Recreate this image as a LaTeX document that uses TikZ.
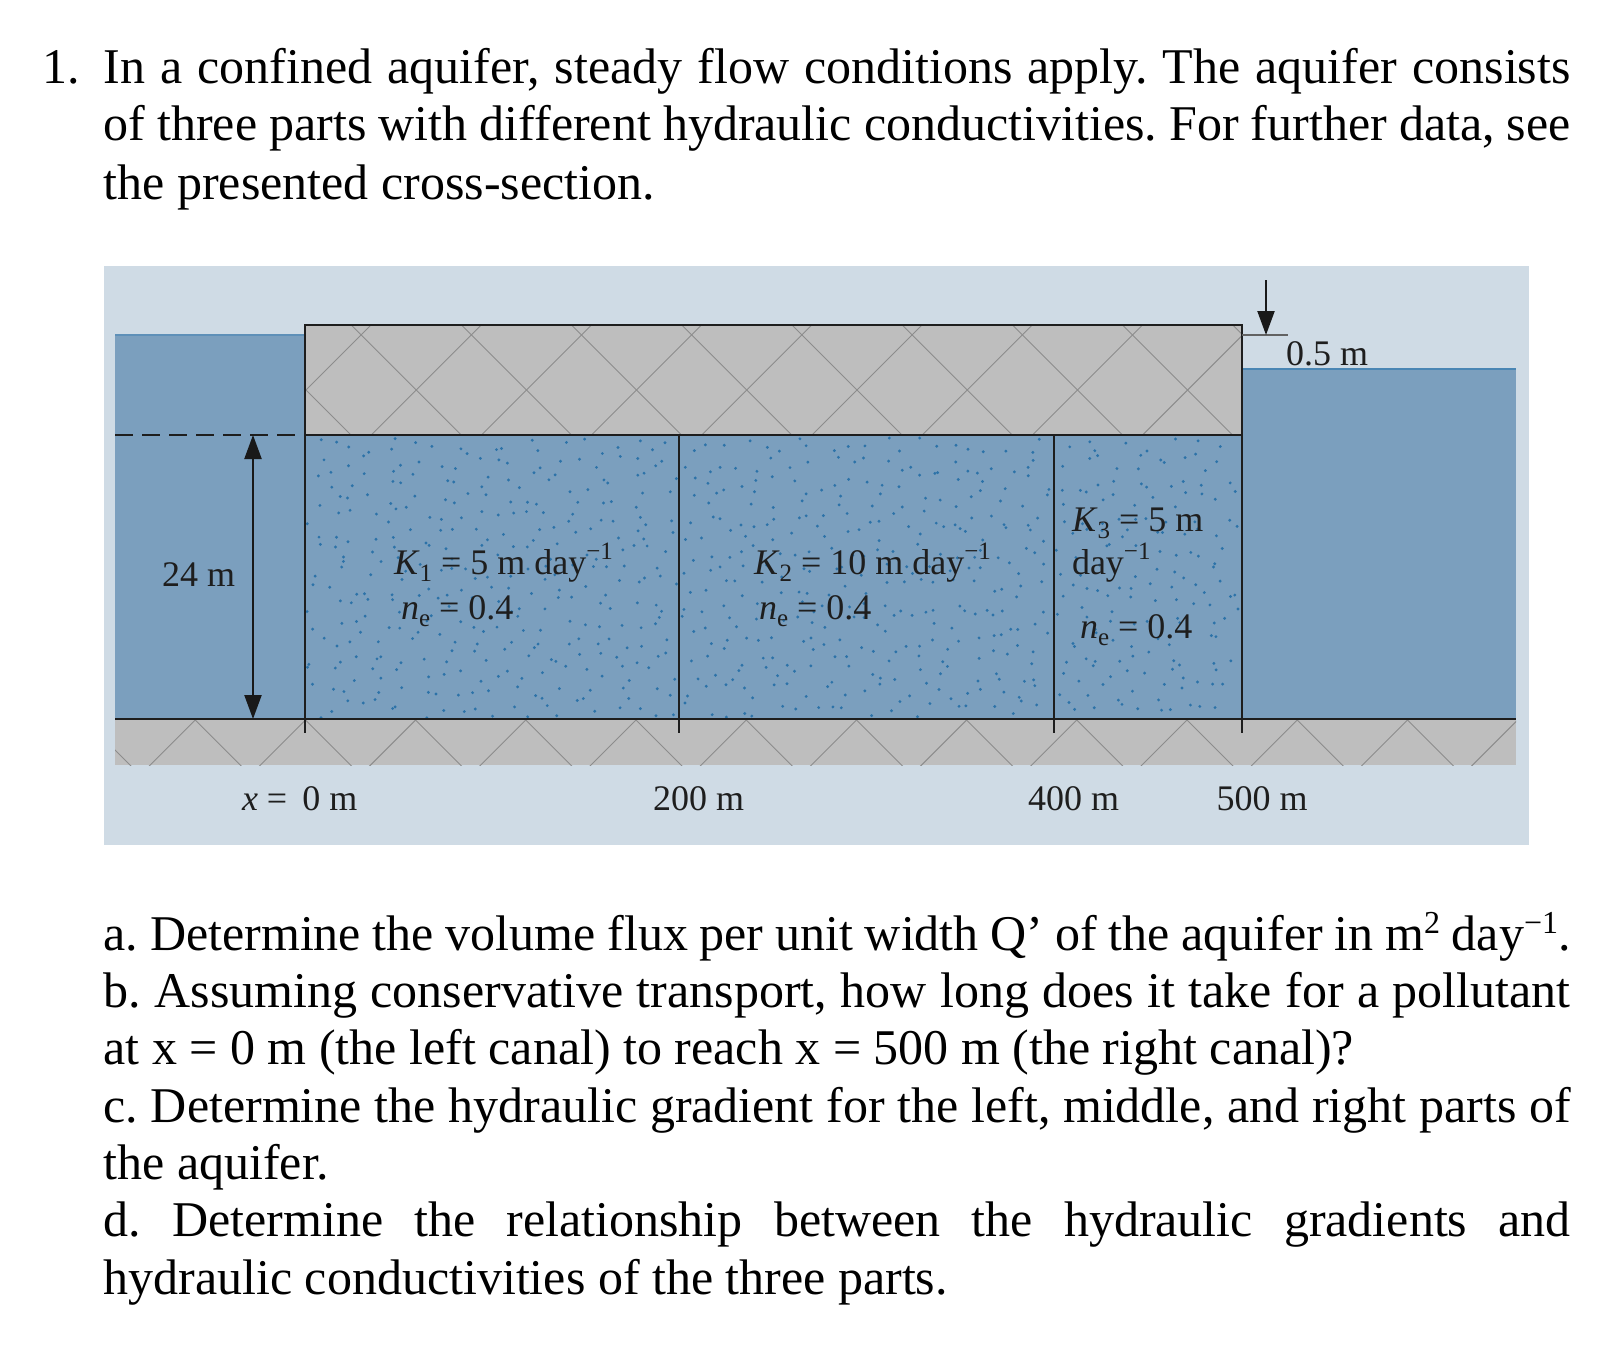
\documentclass[tikz,border=0pt]{standalone}
\usepackage{fontspec}
\setmainfont{Liberation Serif}
\usetikzlibrary{arrows.meta}
\definecolor{panelc}{HTML}{CFDBE5}
\definecolor{waterc}{HTML}{7B9FBE}
\definecolor{clayc}{HTML}{BEBEBE}
\definecolor{hatchc}{HTML}{8C8C8C}
\definecolor{dotc}{HTML}{2C72A8}
\definecolor{inkc}{HTML}{1E1E1E}
\definecolor{surfc}{HTML}{4A86B4}
\newcommand{\subx}[1]{\raisebox{-7pt}{\fontsize{25}{25}\selectfont #1}}
\newcommand{\supx}[1]{\raisebox{15pt}{\fontsize{25}{25}\selectfont #1}}
\newcommand{\bigsup}[1]{\raisebox{17pt}{\fontsize{32}{32}\selectfont #1}}
\newcommand{\Jline}[1]{\makebox[1467pt][s]{#1}}
\frenchspacing
\tikzset{
  para/.style={anchor=base west,inner sep=0pt,outer sep=0pt,text=black,font=\fontsize{50}{50}\selectfont},
  lab/.style={anchor=base west,inner sep=0pt,outer sep=0pt,text=inkc,font=\fontsize{36}{36}\selectfont},
  hatch/.style={draw=hatchc,line width=0.9pt},
  bound/.style={draw=inkc,line width=1.6pt},
  heavy/.style={draw=inkc,line width=2.4pt},
  dimarrow/.style={draw=black!90,line width=2.2pt,{Triangle[length=24pt,width=17pt]}-{Triangle[length=24pt,width=17pt]}},
  downarrow/.style={draw=black!90,line width=2.2pt,-{Triangle[length=24pt,width=17pt]}},
}
\begin{document}
\begin{tikzpicture}[x=1pt,y=-1pt]
\useasboundingbox (0,0) rectangle (1608,1362);
\fill[white] (0,0) rectangle (1608,1362);
% panel
\fill[panelc] (104,266) rectangle (1529,845);
% water
\fill[waterc] (115,335) rectangle (305,719);
\fill[waterc] (305,435) rectangle (1242,719);
\fill[waterc] (1242,369) rectangle (1516,719);
\draw[draw=surfc!60!waterc,line width=1.4pt] (115,335) -- (305,335);
\draw[draw=surfc,line width=2pt] (1242,369) -- (1516,369);
% sand dots: jittered grid
\pgfmathsetseed{4711}
\foreach \cx/\nx in {307/20,681/20,1056/10}{
  \foreach \i in {0,...,\nx}{
    \foreach \j in {0,...,15}{
      \pgfmathsetmacro{\dx}{\cx+(\i+rnd)*17.6}
      \pgfmathsetmacro{\dy}{438+(\j+rnd)*17.5}
      \ifdim \dx pt<\ifnum\nx=10 1240pt\else\ifnum\cx=307 677pt\else 1052pt\fi\fi
        \fill[dotc] (\dx,\dy) circle (1.6pt);
      \fi
    }
  }
}
% upper clay
\fill[clayc] (305,325) rectangle (1242,435);
\begin{scope}
\clip (305,325) rectangle (1242,435);
\foreach \k in {-1,...,9}{
  \pgfmathsetmacro{\xc}{306+110.2*\k}
  \draw[hatch] (\xc-80,310) -- (\xc+80,470);
  \draw[hatch] (\xc+80,310) -- (\xc-80,470);
}
\end{scope}
\draw[bound] (305,325) rectangle (1242,435);
% lower clay
\fill[clayc] (115,719) rectangle (1516,765);
\begin{scope}
\clip (115,719) rectangle (1516,765);
\foreach \k in {0,...,13}{
  \pgfmathsetmacro{\xc}{85+110.2*\k}
  \draw[hatch] (\xc,720) -- (\xc+60,780);
  \draw[hatch] (\xc,720) -- (\xc-60,780);
}
\end{scope}
% boundaries
\coordinate (bl) at (115,719);
\coordinate (br) at (1516,719);
\draw[heavy] (bl) -- (br);
\coordinate (a0t) at (305,435); \coordinate (a0b) at (305,733);
\coordinate (a1t) at (679,435); \coordinate (a1b) at (679,733);
\coordinate (a2t) at (1054,435); \coordinate (a2b) at (1054,733);
\coordinate (a3t) at (1242,435); \coordinate (a3b) at (1242,733);
\draw[heavy] (a0t) -- (a0b);
\draw[bound] (a1t) -- (a1b);
\draw[bound] (a2t) -- (a2b);
\draw[bound] (a3t) -- (a3b);
% dashed level
\coordinate (dl) at (115,435);
\draw[draw=inkc,line width=1.8pt,dash pattern=on 18pt off 9pt] (dl) -- (a0t);
% dimension arrow
\coordinate (dimt) at (253,435); \coordinate (dimb) at (253,719);
\draw[dimarrow] (dimt) -- (dimb);
% top-right arrow
\coordinate (tickl) at (1242,335); \coordinate (tickr) at (1288,335);
\coordinate (downs) at (1266,280); \coordinate (downe) at (1266,335);
\draw[draw=hatchc!70!black,line width=1.2pt] (tickl) -- (tickr);
\draw[downarrow] (downs) -- (downe);
% diagram labels
\node[lab] (l24) at (162,586.5) {24 m};
\node[lab] (l05) at (1286,365.6) {0.5 m};
\node[lab] (lx0) at (242,810) {\textit{x} = \,0 m};
\node[lab] (l200) at (653,810) {200 m};
\node[lab] (l400) at (1028,810) {400 m};
\node[lab] (l500) at (1216.5,810) {500 m};
\node[lab] (k1) at (394,574.5) {\textit{K}\subx{1} = 5 m day\supx{−1}};
\node[lab] (n1) at (401,619.5) {\textit{n}\subx{e} = 0.4};
\node[lab] (k2) at (754,574.5) {\textit{K}\subx{2} = 10 m day\supx{−1}};
\node[lab] (n2) at (759,619.5) {\textit{n}\subx{e} = 0.4};
\node[lab] (k3) at (1072,531.5) {\textit{K}\subx{3} = 5 m};
\node[lab] (k3b) at (1072,574.5) {day\supx{−1}};
\node[lab] (n3) at (1080,638) {\textit{n}\subx{e} = 0.4};
% paragraph
\node[para] (num) at (42,84) {1.};
\node[para] (t1) at (103.6,84) {\Jline{In a confined aquifer, steady flow conditions apply. The aquifer consists}};
\node[para] (t2) at (103.6,141) {\Jline{of three parts with different hydraulic conductivities. For further data, see}};
\node[para] (t3) at (103.6,199) {the presented cross-section.};
\node[para] (qa) at (103.6,950) {\Jline{a. Determine the volume flux per unit width Q’ of the aquifer in m\bigsup{2} day\bigsup{−1}.}};
\node[para] (qb) at (103.6,1007) {\Jline{b. Assuming conservative transport, how long does it take for a pollutant}};
\node[para] (qb2) at (103.6,1064) {at x = 0 m (the left canal) to reach x = 500 m (the right canal)?};
\node[para] (qc) at (103.6,1122) {\Jline{c. Determine the hydraulic gradient for the left, middle, and right parts of}};
\node[para] (qc2) at (103.6,1179) {the aquifer.};
\node[para] (qd) at (103.6,1236) {\Jline{d. Determine the relationship between the hydraulic gradients and}};
\node[para] (qd2) at (103.6,1294) {hydraulic conductivities of the three parts.};
\end{tikzpicture}
\end{document}
